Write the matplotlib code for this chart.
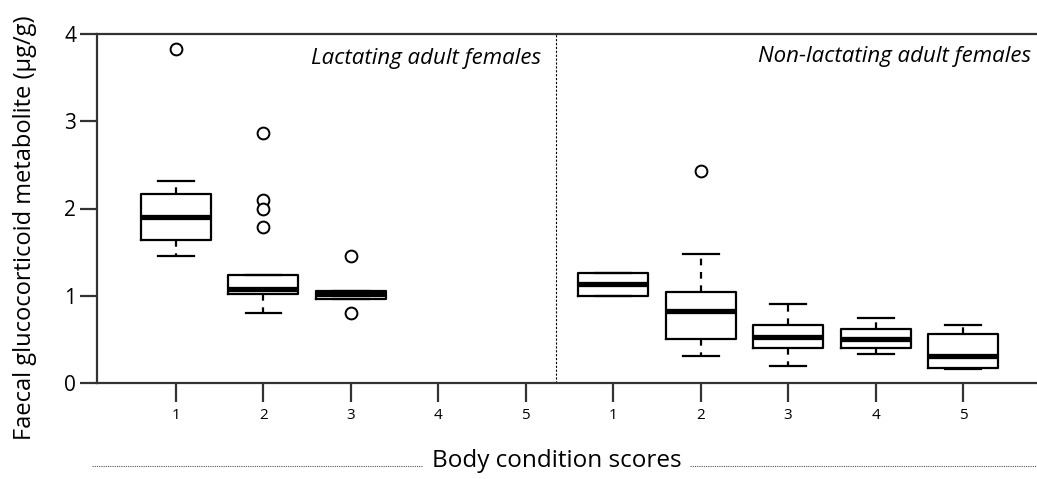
import numpy as np
import matplotlib as mpl
import matplotlib.pyplot as plt
from matplotlib.lines import Line2D

plt.rcParams['font.family'] = ['Open Sans', 'DejaVu Sans']

# body condition score groups, lactating then non-lactating
positions = [1, 2, 3, 6, 7, 8, 9, 10]
tick_pos = [1, 2, 3, 4, 5, 6, 7, 8, 9, 10]
tick_labels = ['1', '2', '3', '4', '5', '1', '2', '3', '4', '5']

# box statistics (ug/g)
whislo = [1.46, 0.80, 0.96, 1.00, 0.31, 0.20, 0.33, 0.16]
q1     = [1.64, 1.02, 0.96, 1.00, 0.51, 0.40, 0.40, 0.17]
med    = [1.90, 1.08, 1.02, 1.13, 0.82, 0.53, 0.50, 0.31]
q3     = [2.17, 1.24, 1.06, 1.26, 1.04, 0.66, 0.62, 0.56]
whishi = [2.31, 1.24, 1.06, 1.26, 1.48, 0.91, 0.75, 0.66]
fliers = [[3.83], [2.87, 2.10, 1.99, 1.79], [1.45, 0.80], [], [2.43], [], [], []]

stats = []
for i in range(len(positions)):
    stats.append(dict(med=med[i], q1=q1[i], q3=q3[i], whislo=whislo[i],
                      whishi=whishi[i], fliers=fliers[i]))

fig = plt.figure(figsize=(10.37, 4.79), dpi=100)
ax = fig.add_axes([97 / 1037, 1 - 383 / 479, 1 - 97 / 1037, (383 - 34) / 479])

ax.bxp(stats, positions=positions, widths=0.8, capwidths=0.41,
       patch_artist=False, manage_ticks=False,
       boxprops=dict(color='black', linewidth=1.6),
       medianprops=dict(color='black', linewidth=3.8, solid_capstyle='butt'),
       whiskerprops=dict(color='black', linewidth=1.6, linestyle=(0, (3, 3))),
       capprops=dict(color='black', linewidth=1.6),
       flierprops=dict(marker='o', markerfacecolor='white',
                       markeredgecolor='black', markersize=8.5,
                       markeredgewidth=1.4, linestyle='none'))

ax.set_xlim(0.0965, 10.846)
ax.set_ylim(0, 4)

# group divider
ax.axvline(5.346, color='black', linewidth=0.8, linestyle=(0, (2, 1.5)))

ax.text(5.18, 3.72, 'Lactating adult females', style='italic', fontsize=16,
        ha='right', va='center')
ax.text(10.78, 3.74, 'Non-lactating adult females', style='italic', fontsize=16,
        ha='right', va='center')

for side in ['right']:
    ax.spines[side].set_visible(False)
for side in ['left', 'bottom', 'top']:
    ax.spines[side].set_linewidth(1.6)
    ax.spines[side].set_color('#333333')

ax.set_yticks([0, 1, 2, 3, 4])
ax.set_yticklabels(['0', '1', '2', '3', '4'], fontsize=15)
ax.tick_params(axis='y', length=12, width=1.6, pad=3, color='#333333')
ax.set_xticks(tick_pos)
ax.set_xticklabels(tick_labels, fontsize=11)
ax.tick_params(axis='x', length=14, width=1.6, pad=4, color='#333333')

fig.text(25 / 1037, 1 - 228 / 479, 'Faecal glucocorticoid metabolite (µg/g)',
         rotation=90, fontsize=17, ha='center', va='center')
fig.text(557 / 1037, 1 - 461 / 479, 'Body condition scores', fontsize=17.5,
         ha='center', va='center')

# dotted rules either side of the x title
y_rule = 1 - 466 / 479
fig.add_artist(Line2D([92 / 1037, 422 / 1037], [y_rule, y_rule], color='#555555',
                      linewidth=0.8, linestyle=(0, (1, 1))))
fig.add_artist(Line2D([690 / 1037, 1.0], [y_rule, y_rule], color='#555555',
                      linewidth=0.8, linestyle=(0, (1, 1))))

fig.savefig('out.png', dpi=100)
